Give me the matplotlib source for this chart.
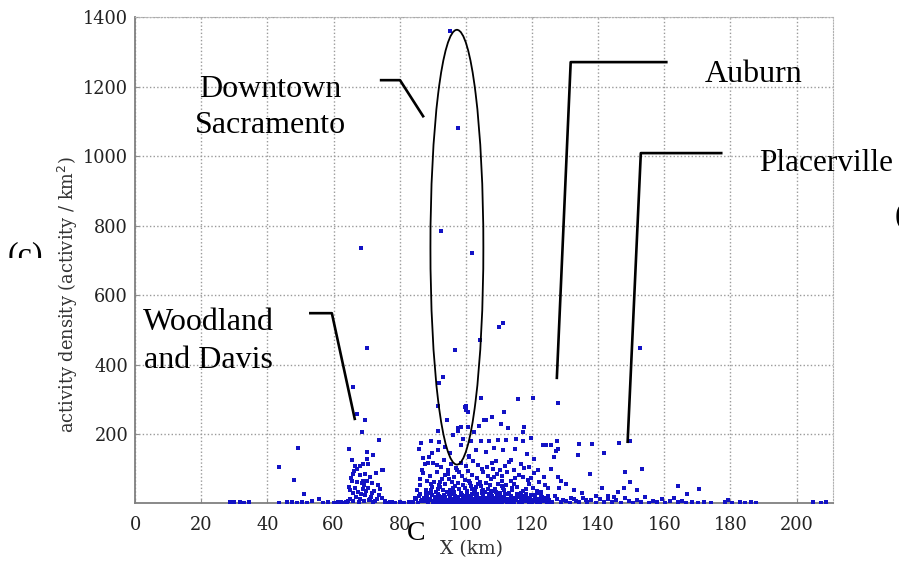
import matplotlib
matplotlib.use("Agg")
import matplotlib.pyplot as plt
from matplotlib.patches import Ellipse, Rectangle

# tall outliers
peak_pts = [(95.1, 1360), (97.6, 1080), (92.4, 786), (101.8, 720), (68.4, 737), (110.0, 507),
            (111.2, 521), (104.3, 472), (96.7, 441), (93.0, 363), (91.8, 346), (70.2, 449),
            (152.6, 449), (66.0, 334), (104.6, 305), (115.8, 300), (120.4, 305), (128.0, 288),
            (100.0, 282)]

# Woodland / Davis cluster
wood_pts = [(67.2, 259), (69.6, 239), (68.7, 205), (73.9, 184), (64.7, 156), (70.2, 147), (72.0, 141),
            (74.8, 95), (65.7, 124), (66.6, 109), (68.1, 109), (69.0, 115), (70.5, 115), (75.1, 95),
            (66.0, 86), (68.1, 81), (69.6, 86), (71.1, 75), (65.7, 66), (67.2, 61), (68.7, 58),
            (70.2, 66), (71.7, 58), (66.6, 46), (69.0, 43), (70.5, 46), (74.2, 43), (66.0, 29),
            (67.5, 32), (69.6, 23), (71.7, 29), (73.9, 23), (65.0, 14), (68.1, 14), (71.1, 14),
            (75.7, 3), (64.3, 8), (66.9, 20), (67.8, 5), (70.8, 10), (72.6, 6), (64.9, 38), (68.4, 27),
            (69.3, 52), (72.3, 35), (73.2, 12), (65.4, 72), (67.0, 100), (69.9, 36), (71.4, 19),
            (73.5, 52), (64.6, 48), (66.3, 93), (68.9, 64), (70.1, 129), (72.9, 88), (74.6, 15),
            (63.8, 4), (65.8, 6), (67.6, 3), (69.2, 8), (71.9, 4), (76.4, 2), (77.8, 5), (63.2, 2),
            (64.0, 3)]

# Sacramento core, upper part
core_hi = [(91.5, 282), (99.7, 279), (100.6, 262), (106.1, 239), (110.6, 230), (117.6, 219), (119.8, 190),
           (97.6, 216), (98.5, 219), (111.6, 262), (105.5, 239), (117.3, 205), (112.8, 216), (115.2, 187),
           (112.2, 184), (109.7, 184), (107.0, 181), (104.6, 181), (101.5, 181), (117.3, 181), (91.5, 210),
           (91.8, 176), (91.5, 153), (89.4, 181), (88.8, 133), (85.7, 158), (87.2, 130), (97.6, 210),
           (98.5, 167), (99.1, 187), (100.6, 219), (100.0, 268), (108.5, 161), (111.2, 153), (113.7, 124),
           (106.1, 147), (103.0, 153), (100.9, 133), (100.9, 138), (94.2, 241), (96.0, 196), (93.6, 163),
           (102.4, 205), (95.2, 145), (114.9, 158), (118.4, 142), (120.7, 128), (89.9, 146), (86.4, 173),
           (108.0, 250), (104.0, 224)]

# Sacramento core, dense lower part
core_lo = [(88.5, 118), (90.0, 118), (92.4, 104), (93.3, 124), (94.5, 95), (95.4, 115), (97.0, 101),
           (98.5, 118), (100.0, 109), (103.7, 112), (106.4, 105), (109.0, 121), (111.9, 108), (114.6, 95),
           (116.8, 114), (117.6, 101), (87.8, 115), (86.9, 95), (91.2, 110), (102.3, 121), (105.0, 99),
           (107.8, 116), (110.3, 97), (113.1, 119), (119.0, 106), (121.9, 95),
           (87.1, 88), (89.3, 79), (91.2, 92), (92.9, 71), (94.6, 84), (96.4, 76), (98.0, 90), (99.8, 68),
           (101.9, 83), (103.3, 74), (105.2, 91), (107.5, 70), (109.3, 86), (111.0, 78), (113.6, 64),
           (116.1, 82), (118.7, 69), (120.5, 88), (88.2, 66), (90.4, 62), (95.7, 63), (97.3, 97),
           (100.7, 94), (104.3, 62), (106.6, 80), (108.2, 99), (110.9, 65), (112.4, 92), (114.8, 73),
           (117.3, 75), (119.8, 72), (123.7, 75), (122.1, 63), (86.0, 70),
           (86.2, 52), (87.9, 40), (89.6, 57), (90.9, 34), (92.3, 47), (93.8, 55), (95.1, 38), (96.7, 50),
           (98.4, 31), (99.9, 44), (101.2, 58), (102.8, 36), (104.5, 49), (105.9, 33), (107.3, 54),
           (108.8, 41), (110.4, 31), (112.1, 52), (113.9, 38), (115.6, 47), (117.4, 35), (119.2, 55),
           (120.4, 46), (124.9, 46), (122.6, 33), (88.7, 30), (91.6, 43), (94.4, 32), (97.5, 58),
           (100.5, 36), (103.6, 55), (106.7, 43), (109.6, 57), (111.3, 45), (114.5, 56), (116.7, 31),
           (118.3, 43), (85.2, 38), (89.9, 48), (93.0, 39), (96.1, 45), (99.0, 52), (102.0, 41),
           (105.1, 40), (108.0, 35), (110.9, 49), (113.2, 30), (121.4, 37), (123.8, 52),
           (84.1, 4), (85.0, 12), (85.8, 22), (86.5, 7), (87.3, 17), (87.9, 27), (88.6, 3), (89.2, 13),
           (89.8, 24), (90.5, 8), (91.1, 19), (91.7, 28), (92.2, 5), (92.8, 15), (93.4, 25), (94.0, 10),
           (94.6, 2), (95.2, 20), (95.8, 14), (96.3, 27), (96.9, 6), (97.5, 18), (98.1, 11), (98.7, 24),
           (99.3, 3), (99.9, 16), (100.5, 28), (101.1, 9), (101.7, 21), (102.3, 13), (102.9, 4),
           (103.5, 26), (104.1, 17), (104.7, 8), (105.3, 23), (105.9, 12), (106.5, 2), (107.1, 19),
           (107.7, 29), (108.3, 7), (108.9, 15), (109.5, 25), (110.1, 5), (110.7, 18), (111.3, 11),
           (111.9, 27), (112.5, 3), (113.1, 14), (113.7, 22), (114.3, 8), (114.9, 17), (115.5, 28),
           (116.1, 4), (116.7, 12), (117.3, 21), (117.9, 6), (118.5, 16), (119.1, 2), (119.7, 25),
           (120.3, 10), (120.9, 19), (121.5, 5), (122.1, 14), (122.7, 24), (123.3, 8), (123.9, 17),
           (124.5, 3), (125.1, 11),
           (84.6, 16), (85.5, 2), (86.1, 26), (86.9, 11), (87.6, 6), (88.3, 20), (89.0, 9), (89.5, 29),
           (90.2, 1), (90.8, 14), (91.4, 4), (92.0, 22), (92.5, 10), (93.1, 1), (93.7, 18), (94.3, 7),
           (94.9, 26), (95.5, 5), (96.0, 12), (96.6, 21), (97.2, 2), (97.8, 9), (98.4, 29), (99.0, 13),
           (99.6, 7), (100.2, 20), (100.8, 1), (101.4, 15), (102.0, 26), (102.6, 6), (103.2, 18),
           (103.8, 2), (104.4, 11), (105.0, 29), (105.6, 4), (106.2, 16), (106.8, 9), (107.4, 1),
           (108.0, 22), (108.6, 13), (109.2, 3), (109.8, 10), (110.4, 24), (111.0, 2), (111.6, 20),
           (112.2, 7), (112.8, 26), (113.4, 5), (114.0, 13), (114.6, 1), (115.2, 9), (115.8, 19),
           (116.4, 24), (117.0, 2), (117.6, 14), (118.2, 27), (118.8, 8), (119.4, 12), (120.0, 1),
           (120.6, 23), (121.2, 7), (121.8, 29), (122.4, 2), (123.0, 19), (123.6, 12), (124.2, 6),
           (124.8, 21), (125.6, 1),
           (90.0, 3), (91.3, 11), (92.6, 18), (93.9, 4), (95.0, 8), (96.2, 1), (97.0, 14), (98.2, 5),
           (99.4, 22), (100.4, 10), (101.6, 3), (102.7, 11), (103.9, 8), (105.2, 15), (106.3, 5),
           (107.6, 12), (108.7, 1), (109.9, 18), (111.1, 6), (112.3, 13), (93.5, 13), (96.7, 9),
           (99.8, 2), (102.2, 7), (104.9, 1), (107.9, 4), (110.6, 9),
           (89.4, 38), (92.1, 61), (94.9, 70), (97.8, 41), (100.9, 66), (103.1, 47), (106.0, 60),
           (108.4, 77), (111.6, 38), (114.1, 44), (96.5, 33), (101.5, 50), (104.8, 35), (98.9, 78),
           (93.6, 82), (91.9, 54), (107.0, 27), (109.1, 33), (95.6, 29), (102.5, 31)]

# east side (Auburn / Placerville)
east_pts = [(124.3, 167), (125.8, 167), (127.7, 181), (127.4, 150), (134.3, 170), (138.0, 170), (134.0, 141),
            (137.4, 86), (146.2, 173), (149.5, 179), (141.9, 144), (148.0, 92), (153.2, 98), (149.5, 61),
            (147.7, 46), (145.9, 32), (151.7, 40), (164.1, 49), (170.5, 43), (166.9, 26), (123.4, 167),
            (128.0, 158), (126.7, 133), (125.8, 98), (128.0, 75), (128.9, 66), (131.9, 17), (135.0, 29),
            (128.3, 46), (130.4, 55), (132.6, 38), (139.5, 21), (141.3, 44), (143.0, 12), (136.2, 9),
            (144.8, 18), (133.4, 6), (127.1, 22), (129.5, 11)]

# low-density band along the axis
base_pts = [(28.6, 5), (29.8, 3), (31.6, 4), (33.0, 2), (34.5, 4), (43.6, 2), (46.0, 3), (47.5, 5),
            (49.0, 2), (50.6, 4), (52.1, 2), (53.4, 6), (56.8, 2), (58.2, 4), (60.0, 2), (61.5, 3),
            (62.4, 5), (75.5, 8), (77.0, 3), (78.6, 2), (80.1, 3), (81.4, 2), (82.7, 4), (83.5, 2),
            (49.2, 161), (43.5, 104), (48.0, 69), (51.1, 26), (55.6, 14),
            (126.0, 5), (127.5, 13), (128.8, 3), (130.2, 8), (131.4, 2), (132.8, 12), (134.1, 4),
            (135.5, 15), (136.7, 3), (137.9, 9), (139.2, 2), (140.6, 14), (141.8, 5), (143.1, 22),
            (144.3, 3), (145.5, 10), (146.8, 2), (148.1, 16), (149.3, 6), (150.6, 2), (151.8, 11),
            (153.0, 4), (154.2, 19), (155.4, 2), (156.7, 8), (157.9, 3), (159.2, 13), (160.3, 2),
            (161.6, 6), (162.8, 15), (164.0, 3), (165.3, 8), (166.6, 2), (168.4, 4), (170.2, 2),
            (172.0, 3), (174.1, 2), (178.3, 3), (179.2, 10), (180.4, 2), (183.0, 3), (184.5, 2),
            (186.1, 3), (187.6, 2), (205.0, 3), (207.3, 2), (209.0, 4)]

xticks = [0, 20, 40, 60, 80, 100, 120, 140, 160, 180, 200]
yticks = [200, 400, 600, 800, 1000, 1200, 1400]

all_pts = peak_pts + wood_pts + core_hi + core_lo + east_pts + base_pts
px = [p[0] for p in all_pts]
py = [p[1] for p in all_pts]

fig = plt.figure(figsize=(8.99, 5.64), dpi=100)
ax = fig.add_axes([0.1502, 0.1073, 0.7764, 0.862])

ax.plot(px, py, linestyle="none", marker="s", ms=2.7, mew=0, color="#1212c4", zorder=3)

ax.set_xlim(0, 211)
ax.set_ylim(0, 1400)
ax.set_xticks(xticks)
ax.set_yticks(yticks)
ax.grid(True, color="#9a9a9a", linestyle=(0, (1, 1.6)), linewidth=1.0)
ax.set_axisbelow(True)
for s in ["left", "bottom"]:
    ax.spines[s].set_color("#808080")
    ax.spines[s].set_linewidth(1.3)
for s in ["top", "right"]:
    ax.spines[s].set_color("#b0b0b0")
    ax.spines[s].set_linestyle((0, (1, 1.6)))
ax.tick_params(direction="in", length=3, color="#909090", labelsize=12.8, labelcolor="#222222")
ax.tick_params(axis="x", pad=9)
ax.tick_params(axis="y", pad=5)
for lab in ax.get_xticklabels() + ax.get_yticklabels():
    lab.set_family("DejaVu Serif")

# ellipse around downtown
ax.add_patch(Ellipse((97.3, 738), 16.0, 1252, fill=False, edgecolor="black", lw=1.3, zorder=5))

# leader lines
lk = dict(color="black", lw=1.9, clip_on=False, zorder=5, solid_capstyle="butt")
ax.plot([74.0, 80.1, 87.3], [1219, 1219, 1112], **lk)
ax.plot([161.0, 131.7, 127.5], [1271, 1271, 358], **lk)
ax.plot([177.6, 152.9, 148.9], [1009, 1009, 174], **lk)
ax.plot([52.6, 59.5, 66.5], [548, 548, 240], **lk)

tf = dict(family="Liberation Serif", fontsize=23, color="black")
fig.text(0.3003, 0.828, "Downtown", ha="center", va="baseline", **tf)
fig.text(0.3003, 0.764, "Sacramento", ha="center", va="baseline", **tf)
fig.text(0.2314, 0.4149, "Woodland", ha="center", va="baseline", **tf)
fig.text(0.2314, 0.3475, "and Davis", ha="center", va="baseline", **tf)
fig.text(0.7842, 0.8546, "Auburn", ha="left", va="baseline", **tf)
fig.text(0.8443, 0.6968, "Placerville", ha="left", va="baseline", family="Liberation Serif",
         fontsize=22.5, color="black")
fig.text(0.9956, 0.6028, "(d)", ha="left", va="baseline", **tf)
fig.text(0.4527, 0.0426, "C", ha="left", va="baseline", family="Liberation Serif", fontsize=20)

ct = fig.text(0.0089, 0.5337, "(c)", ha="left", va="baseline", **tf)
clip = Rectangle((0, 1 - 258 / 564), 0.1, 0.2, transform=fig.transFigure)
ct.set_clip_path(clip)
ct.set_clip_on(True)

fig.text(0.0756, 0.477, "activity density (activity / km$^2$)", rotation=90, ha="center", va="center",
         family="DejaVu Serif", fontsize=12.8, color="#333333")
fig.text(0.525, 0.0266, "X (km)", ha="center", va="center", family="DejaVu Serif", fontsize=13.5,
         color="#333333")

fig.savefig("out.png", dpi=100)
